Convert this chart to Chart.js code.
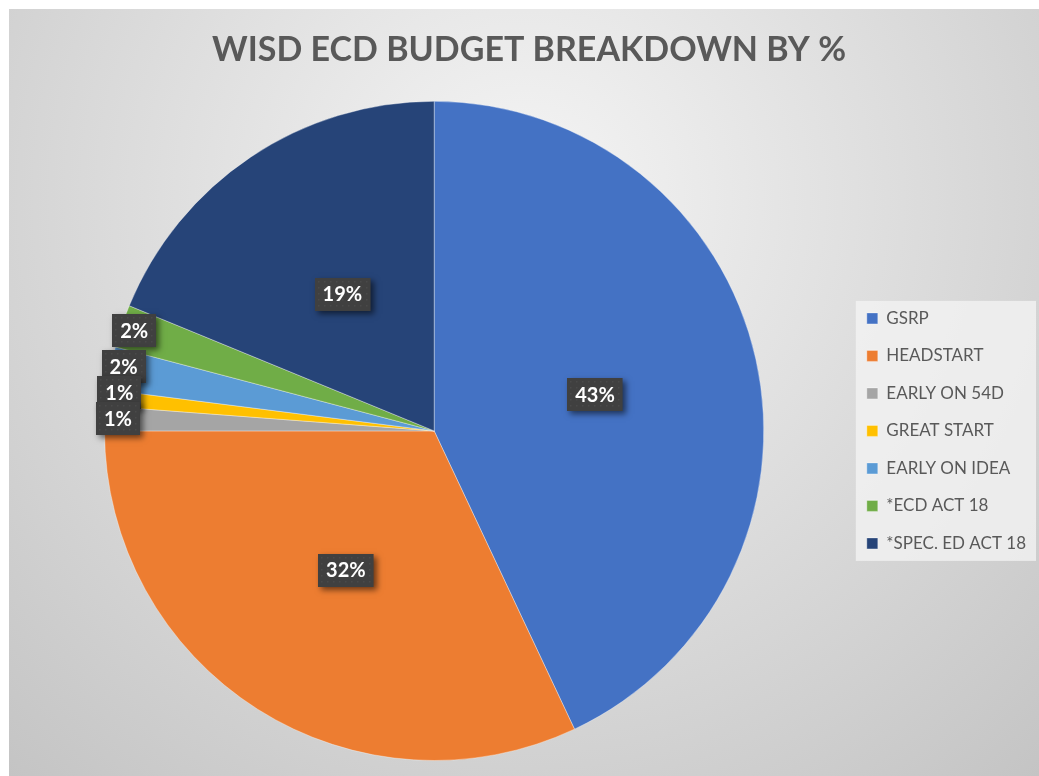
<!DOCTYPE html>
<html>
<head>
<meta charset="utf-8">
<script src="https://cdn.jsdelivr.net/npm/chart.js@4.4.1/dist/chart.umd.min.js"></script>
<style>
    html, body { margin: 0; padding: 0; background: #ffffff; }
    #frame {
        position: absolute; left: 9px; top: 9px; width: 1030px; height: 767px;
        background: radial-gradient(circle farthest-corner at 515px 190px, #f5f5f5 0%, #c4c4c4 100%);
    }
    #frame canvas { position: absolute; left: 0; top: 0; }
</style>
</head>
<body>
<div id="frame"><canvas id="budgetChart" width="1030" height="767"></canvas></div>
<script>
// chart data
const categories = ['GSRP', 'HEADSTART', 'EARLY ON 54D', 'GREAT START', 'EARLY ON IDEA', '*ECD ACT 18', '*SPEC. ED ACT 18'];
const shares = [43.0, 32.0, 1.2, 0.8, 2.1, 2.1, 18.8];
const sliceColors = ['#4472C4', '#ED7D31', '#A5A5A5', '#FFC000', '#5B9BD5', '#70AD47', '#264478'];

// light panel behind the legend entries
const legendPanel = {
    id: 'legendPanel',
    beforeDraw(chart) {
        const boxes = chart.legend && chart.legend.legendHitBoxes;
        if (!boxes || !boxes.length) return;
        const ctx = chart.ctx;
        const left = Math.min(...boxes.map(b => b.left)) - 11;
        const right = Math.max(...boxes.map(b => b.left + b.width)) + 10;
        const top = boxes[0].top - 9;
        const bottom = boxes[boxes.length - 1].top + boxes[boxes.length - 1].height + 9;
        ctx.save();
        ctx.fillStyle = 'rgba(242,242,242,0.8)';
        ctx.fillRect(left, top, right - left, bottom - top);
        ctx.restore();
    }
};

// dark percentage callouts
const pctLabels = {
    id: 'pctLabels',
    afterDatasetsDraw(chart) {
        const ctx = chart.ctx;
        const meta = chart.getDatasetMeta(0);
        const data = chart.data.datasets[0].data;
        const total = data.reduce((a, b) => a + b, 0);
        const spots = [];
        meta.data.forEach((arc, i) => {
            const p = arc.getProps(['x', 'y', 'startAngle', 'endAngle', 'outerRadius'], true);
            const mid = (p.startAngle + p.endAngle) / 2;
            const small = data[i] / total < 0.05;
            const f = small ? 0.96 : 0.5;
            spots.push({
                i: i,
                small: small,
                x: p.x + Math.cos(mid) * p.outerRadius * f,
                y: p.y + Math.sin(mid) * p.outerRadius * f,
                text: Math.round(data[i] / total * 100) + '%'
            });
        });
        // push the small ones apart, working up from the bottom one
        const smalls = spots.filter(s => s.small);
        for (let k = 1; k < smalls.length; k++) {
            if (smalls[k].y > smalls[k - 1].y - 26) smalls[k].y = smalls[k - 1].y - 26;
        }
        const order = spots.filter(s => !s.small).concat(smalls.slice().reverse());

        ctx.save();
        ctx.font = 'bold 20px Lato';
        ctx.textAlign = 'center';
        ctx.textBaseline = 'middle';
        order.forEach(s => {
            const w = ctx.measureText(s.text).width + 16;
            const h = 33;
            const bx = Math.round(s.x - w / 2), by = Math.round(s.y - h / 2);
            ctx.save();
            ctx.shadowColor = 'rgba(0,0,0,0.55)';
            ctx.shadowBlur = 6;
            ctx.shadowOffsetX = 3;
            ctx.shadowOffsetY = 3;
            ctx.fillStyle = '#404040';
            ctx.fillRect(bx, by, w, h);
            ctx.restore();
            ctx.fillStyle = '#4a4a4a';
            for (let yy = by + 3; yy < by + h - 1; yy += 6) {
                for (let xx = bx + 3; xx < bx + w - 1; xx += 6) {
                    ctx.fillRect(xx, yy, 1.5, 1.5);
                }
            }
            ctx.fillStyle = '#ffffff';
            ctx.fillText(s.text, s.x, s.y + 1);
        });
        ctx.restore();
    }
};

new Chart(document.getElementById('budgetChart'), {
    type: 'pie',
    data: {
        labels: categories,
        datasets: [{
            data: shares,
            backgroundColor: sliceColors,
            borderColor: 'rgba(255,255,255,0.35)',
            borderWidth: 1
        }]
    },
    options: {
        responsive: false,
        animation: false,
        layout: { padding: { left: 13, right: 3, top: 0, bottom: 15 } },
        plugins: {
            title: {
                display: true,
                text: 'WISD ECD BUDGET BREAKDOWN BY %',
                color: '#595959',
                font: { family: 'Lato', size: 34, weight: 'bold', lineHeight: 1.2 },
                padding: { top: 21, bottom: 30 }
            },
            legend: {
                display: true,
                position: 'right',
                fullSize: false,
                labels: {
                    color: '#595959',
                    font: { family: 'Lato', size: 17 },
                    boxWidth: 11,
                    boxHeight: 11,
                    padding: 20.5
                }
            },
            tooltip: { enabled: false }
        }
    },
    plugins: [legendPanel, pctLabels]
});
</script>
</body>
</html>
